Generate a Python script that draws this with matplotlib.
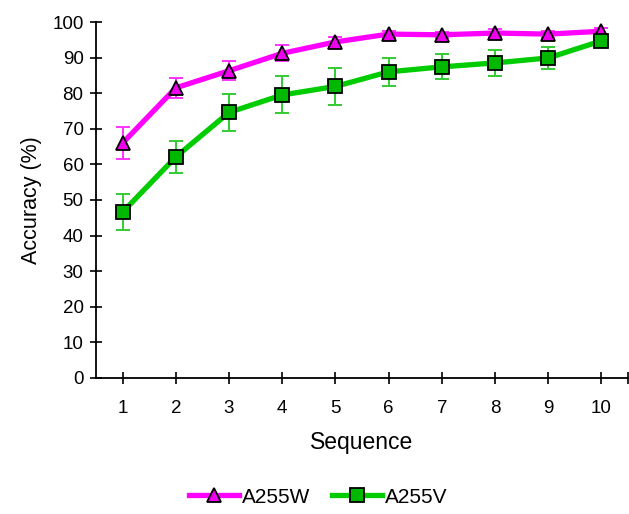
import matplotlib.pyplot as plt
import numpy as np

plt.rcParams['font.family'] = ['Liberation Sans', 'DejaVu Sans']

sequence = [1, 2, 3, 4, 5, 6, 7, 8, 9, 10]

# accuracy (%) and error bars
a255w = [66.0, 81.5, 86.3, 91.2, 94.4, 96.6, 96.4, 96.9, 96.6, 97.4]
a255w_err = [4.5, 2.8, 2.7, 2.2, 1.5, 1.0, 0.9, 1.0, 1.0, 1.0]
a255v = [46.6, 62.1, 74.6, 79.5, 81.9, 86.0, 87.4, 88.5, 89.9, 94.7]
a255v_err = [5.0, 4.5, 5.3, 5.2, 5.2, 4.0, 3.5, 3.6, 3.0, 1.5]

fig = plt.figure(figsize=(6.29, 5.14), dpi=100)
ax = fig.add_axes([96 / 629, 136 / 514, 532 / 629, 356 / 514])

# error bars drawn separately so the legend only shows line + marker
ax.errorbar(sequence, a255w, yerr=a255w_err, fmt='none', ecolor='#ff33ff',
            elinewidth=1.4, capsize=5, capthick=1.4, zorder=2)
ax.errorbar(sequence, a255v, yerr=a255v_err, fmt='none', ecolor='#33cc33',
            elinewidth=1.4, capsize=5, capthick=1.4, zorder=2)
ax.plot(sequence, a255w, color='#ff00ff', lw=3.8, marker='^', ms=10,
        mfc='#ee00ee', mec='black', mew=1.3, label='A255W', zorder=3)
ax.plot(sequence, a255v, color='#00cc00', lw=3.8, marker='s', ms=10,
        mfc='#00b800', mec='black', mew=1.3, label='A255V', zorder=3)

ax.set_xlim(0.5, 10.5)
ax.set_ylim(0, 100)
ax.set_xticks(sequence)
ax.set_xticks([10.5], minor=True)
ax.set_yticks(np.arange(0, 101, 10))
ax.tick_params(which='both', direction='inout', length=8, width=1.2, labelsize=13.5, pad=12)
ax.tick_params(axis='y', pad=5)
for s in ['top', 'right']:
    ax.spines[s].set_visible(False)
for s in ['left', 'bottom']:
    ax.spines[s].set_linewidth(1.3)

ax.set_xlabel('Sequence', fontsize=16.5, labelpad=10)
ax.set_ylabel('Accuracy (%)', fontsize=15.5, labelpad=7)

fig.legend(loc='lower center', bbox_to_anchor=(0.506, -0.022), ncol=2, frameon=False,
           fontsize=15, handlelength=2.4, columnspacing=1.0, handletextpad=0.15)

plt.savefig('out.png', dpi=100)
